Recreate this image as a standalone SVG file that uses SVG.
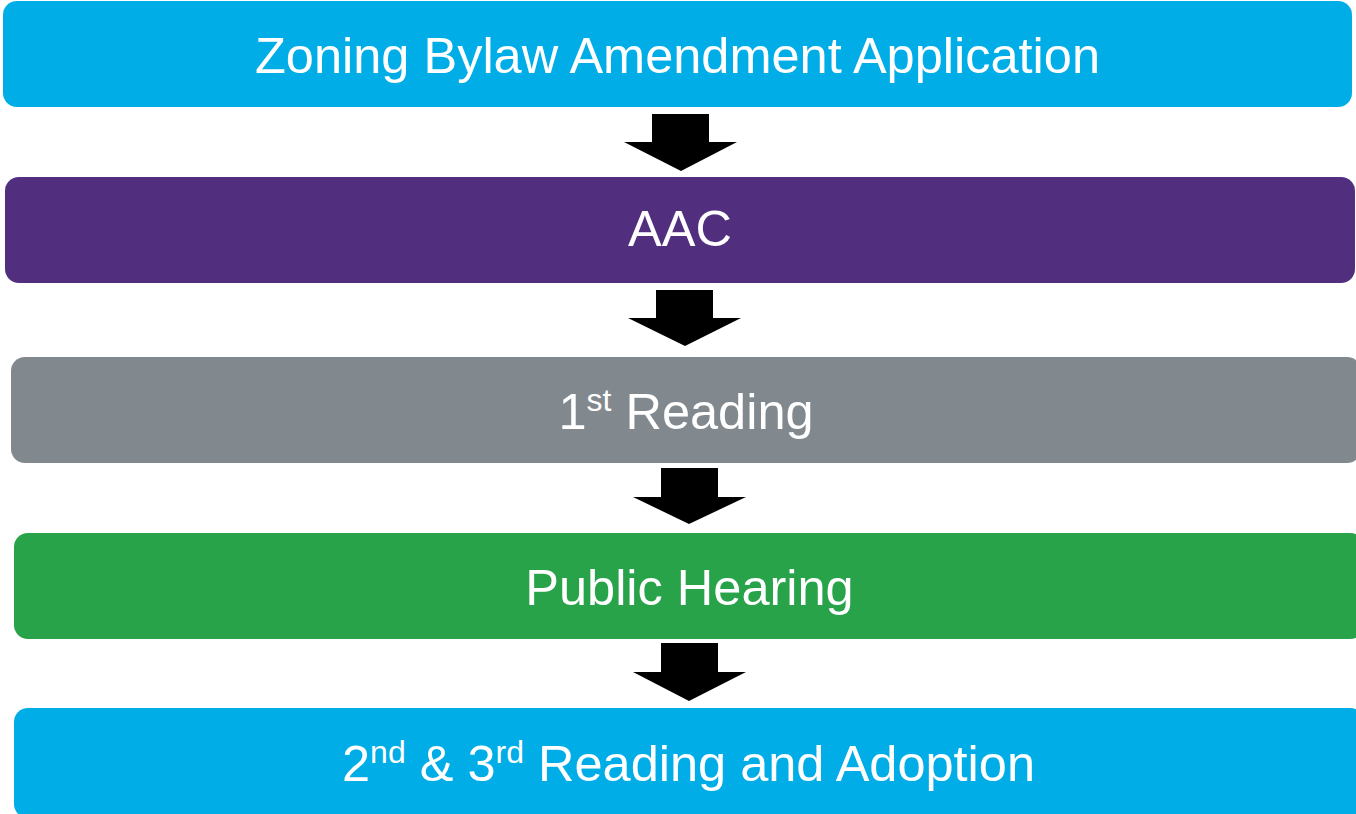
<svg xmlns="http://www.w3.org/2000/svg" width="1356" height="814" viewBox="0 0 1356 814">
<style>
.t{font-family:"Liberation Sans",Arial,sans-serif;font-size:50.5px;fill:#fff;text-anchor:middle}
.s{font-size:32px}
.arr{fill:#000}
</style>
<rect width="1356" height="814" fill="#fff"/>
<g id="n1"><rect x="3" y="1" width="1349" height="106" rx="14" fill="#00ADE7"/><text class="t" x="677.5" y="73">Zoning Bylaw Amendment Application</text></g>
<g id="n2"><rect x="5" y="177" width="1350" height="106" rx="14" fill="#522E7E"/><text class="t" x="680" y="246">AAC</text></g>
<g id="n3"><rect x="11" y="357" width="1350" height="106" rx="14" fill="#81898E"/><text class="t" x="686" y="428.5">1<tspan class="s" dy="-18">st</tspan><tspan dy="18"> Reading</tspan></text></g>
<g id="n4"><rect x="14" y="533" width="1350" height="106" rx="14" fill="#28A349"/><text class="t" x="689.5" y="605">Public Hearing</text></g>
<g id="n5"><rect x="14" y="708" width="1350" height="110" rx="14" fill="#00ADE7"/><text class="t" x="688.5" y="781">2<tspan class="s" dy="-18">nd</tspan><tspan dy="18"> &amp; 3</tspan><tspan class="s" dy="-18">rd</tspan><tspan dy="18"> Reading and Adoption</tspan></text></g>
<g id="connectors">
<polygon class="arr" points="652,114 709,114 709,142 737,142 681,171 624,142 652,142"/>
<polygon class="arr" points="656,290 713,290 713,318 741,318 685,346 628,318 656,318"/>
<polygon class="arr" points="661,468 718,468 718,497 746,497 689,524 633,497 661,497"/>
<polygon class="arr" points="661,643 718,643 718,672 746,672 689,701 633,672 661,672"/>
</g>
</svg>
